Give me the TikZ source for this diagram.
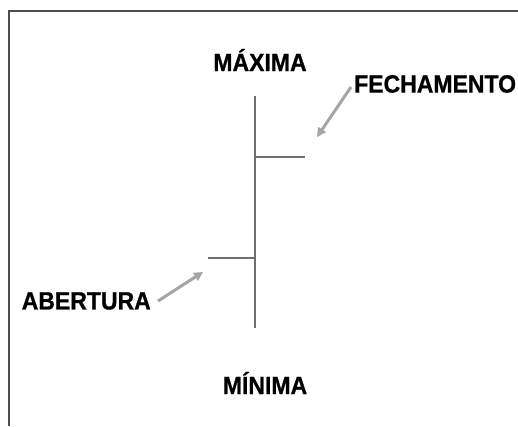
\documentclass[tikz,border=0pt]{standalone}
\usepackage{fontspec}
\setmainfont{Liberation Sans}[FakeStretch=0.92,BoldFeatures={FakeBold=0.8}]
\usetikzlibrary{arrows.meta}
\definecolor{bargray}{RGB}{110,110,110}
\definecolor{arrowgray}{RGB}{165,165,165}
\begin{document}
\begin{tikzpicture}[x=1pt,y=-1pt]
            \useasboundingbox (0,0) rectangle (518,426);
            \draw[line width=1.5pt,black!70] (518,11) -- (9,11) -- (9,426);
            \begin{scope}[every node/.style={font=\fontsize{25}{29}\selectfont\bfseries,inner sep=1pt}]
                \node (maxima) at (260,60) {MÁXIMA};
                \node (minima) at (265,383) {MÍNIMA};
                \node[anchor=west] (fechamento) at (353,84) {FECHAMENTO};
                \node[anchor=east] (abertura) at (152,301) {ABERTURA};
            \end{scope}
            \coordinate (top) at (255,96);
            \coordinate (bottom) at (255,328);
            \coordinate (close) at (305,157);
            \coordinate (open) at (208,258);
            \coordinate (closetip) at (317,137);
            \coordinate (opentip) at (203,272);
            \begin{scope}[every path/.style={draw=bargray,line width=1.2pt}]
                \path (top) -- (bottom);
                \path (top |- close) -- (close);
                \path (open) -- (bottom |- open);
            \end{scope}
            \begin{scope}[every edge/.style={draw=arrowgray,line width=3pt,-{Triangle[length=9pt,width=9pt]}}]
                \path ([xshift=-2pt,yshift=-3pt]fechamento.west) edge (closetip);
                \path ([xshift=6pt]abertura.east) edge (opentip);
            \end{scope}
        \end{tikzpicture}
\end{document}
